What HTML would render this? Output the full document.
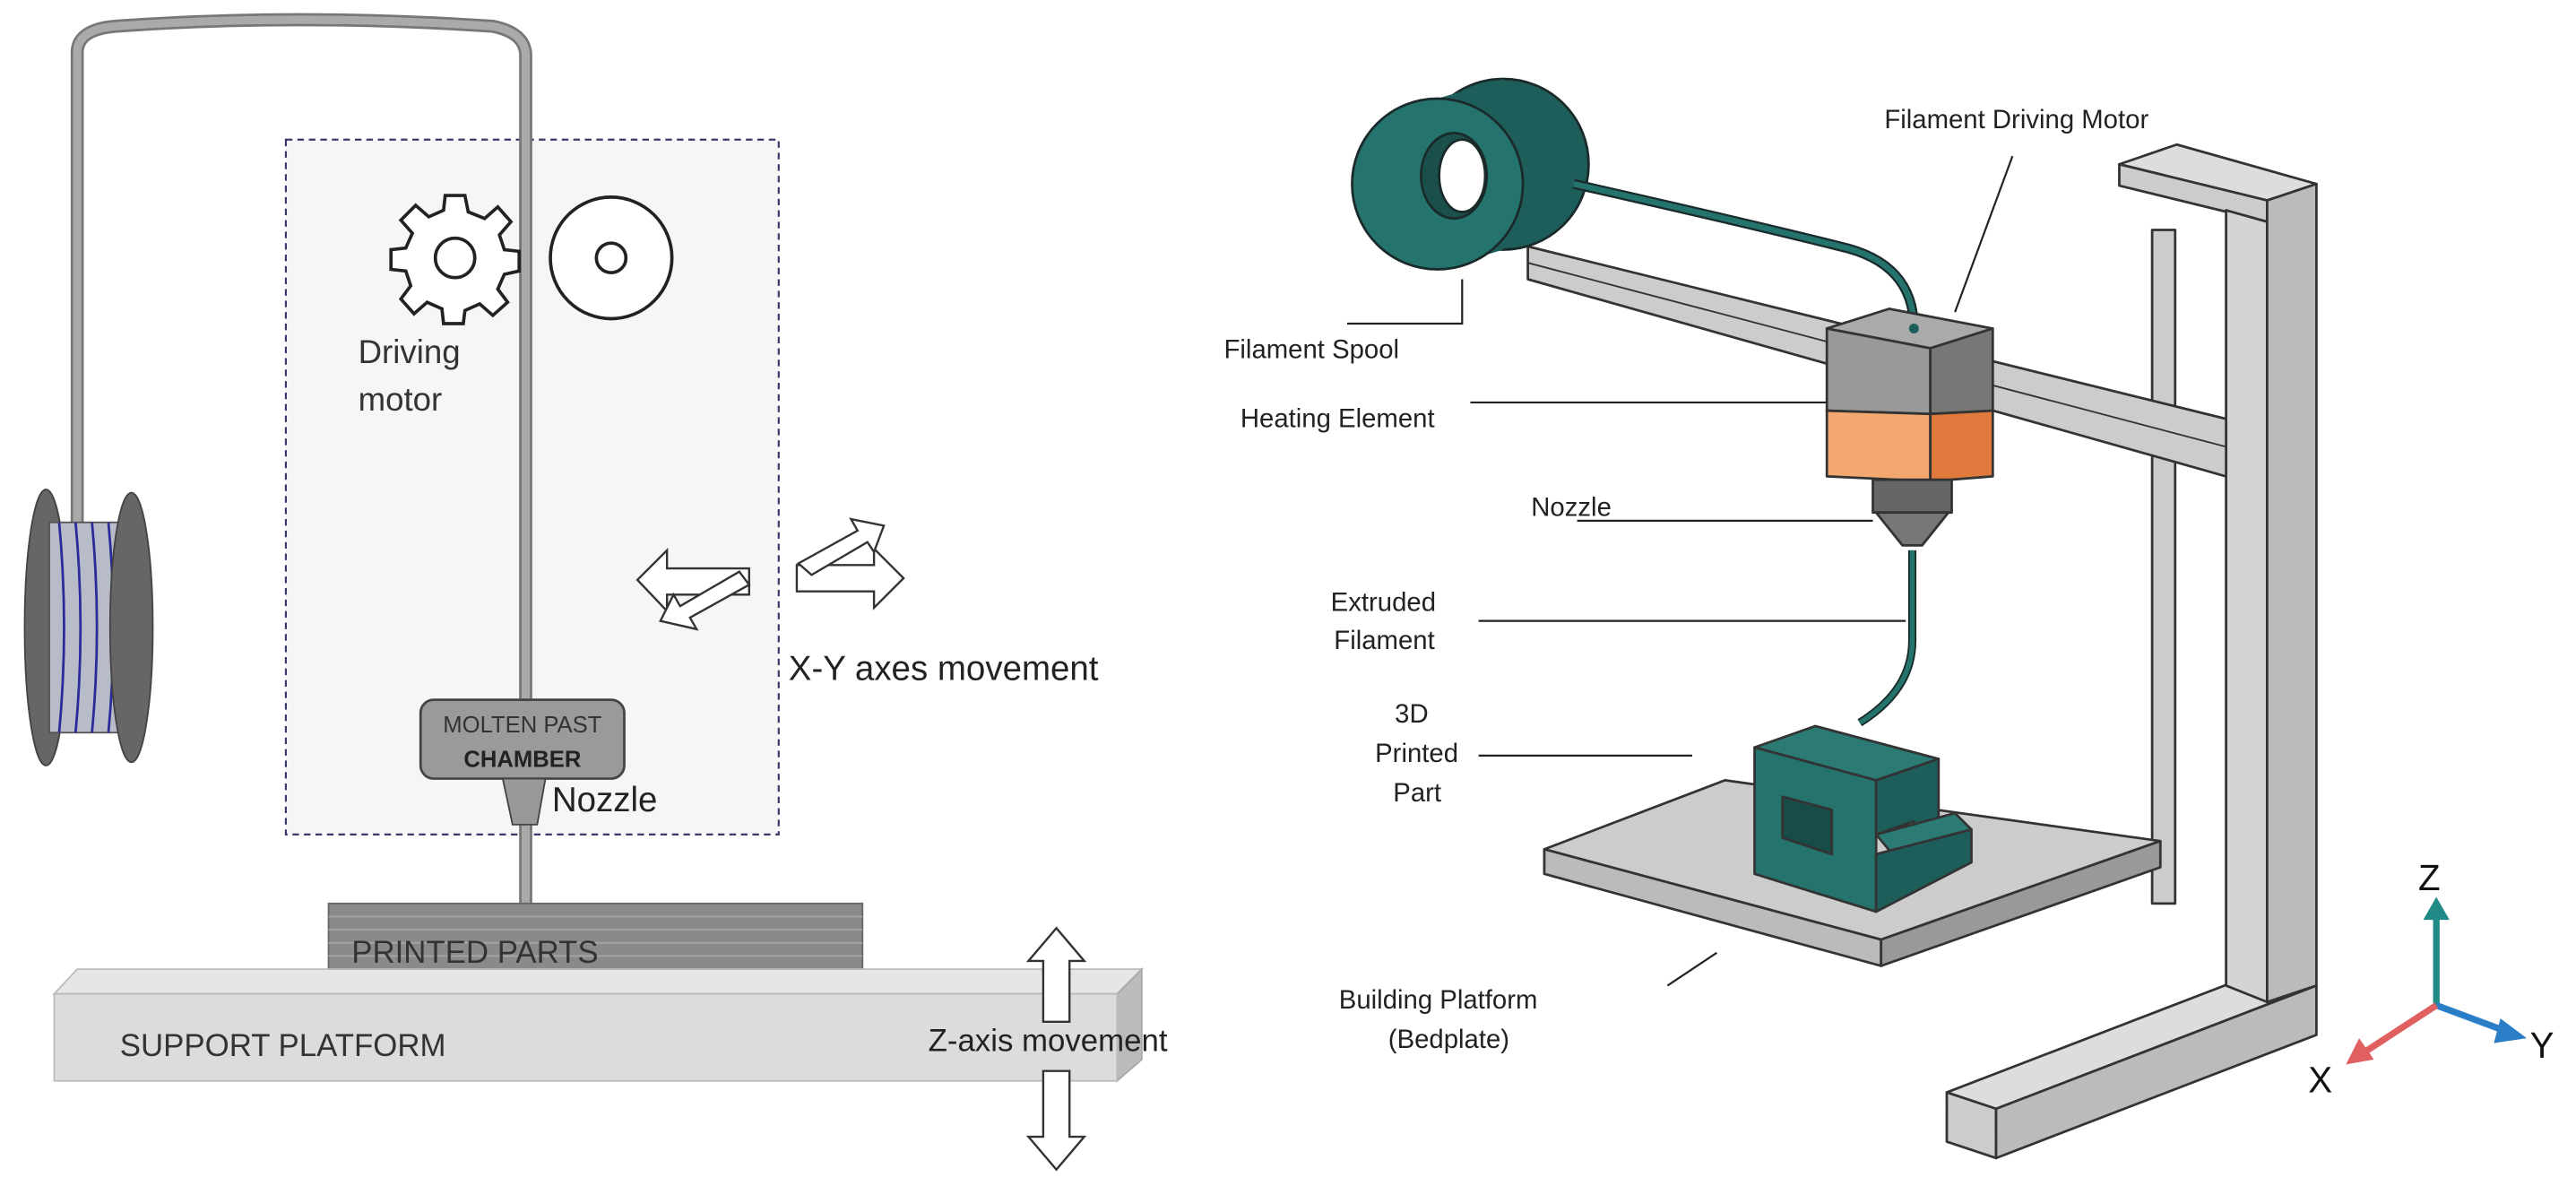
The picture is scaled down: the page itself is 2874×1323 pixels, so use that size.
<!DOCTYPE html>
<html><head><style>html,body{margin:0;padding:0;background:#fff}svg{display:block}</style></head><body>
<svg width="2874" height="1323" viewBox="0 0 1568 722" preserveAspectRatio="none" xmlns="http://www.w3.org/2000/svg" font-family="Liberation Sans, sans-serif">
<rect width="1568" height="722" fill="#fff"/>
<!-- LEFT PANEL -->
<rect x="174" y="85" width="300" height="423" fill="#f6f6f6" stroke="#3a3a6a" stroke-width="1.2" stroke-dasharray="4,3"/>
<path d="M47,330 L47,32 Q47,18 70,16 Q180,8 300,16 Q320,20 320,34 L320,552" fill="none" stroke="#777" stroke-width="8"/>
<path d="M47,330 L47,32 Q47,18 70,16 Q180,8 300,16 Q320,20 320,34 L320,552" fill="none" stroke="#aaa" stroke-width="5"/>
<!-- spool -->
<ellipse cx="28" cy="382" rx="13" ry="84" fill="#666" stroke="#444"/>
<rect x="30" y="318" width="46" height="128" fill="#b8bcc8" stroke="#555"/>
<g stroke="#2a2a9a" stroke-width="1.5" fill="none">
<path d="M36,318 Q42,382 36,446"/><path d="M46,318 Q52,382 46,446"/><path d="M56,318 Q62,382 56,446"/><path d="M66,318 Q72,382 66,446"/><path d="M74,318 Q80,382 74,446"/>
</g>
<ellipse cx="80" cy="382" rx="13" ry="82" fill="#666" stroke="#444"/>
<!-- gear -->
<g transform="translate(277,157)" fill="#fff" stroke="#222" stroke-width="2">
<path d="M-6,-38 L6,-38 L8,-28 L18,-24 L26,-31 L34,-22 L27,-14 L30,-5 L39,-4 L39,8 L30,10 L26,19 L32,27 L23,35 L15,28 L6,32 L5,40 L-7,40 L-8,31 L-17,27 L-25,34 L-33,25 L-27,17 L-30,8 L-39,7 L-39,-5 L-30,-6 L-26,-15 L-33,-23 L-24,-32 L-16,-25 L-7,-29 Z"/>
<circle r="12"/>
</g>
<circle cx="372" cy="157" r="37" fill="#fff" stroke="#222" stroke-width="2"/>
<circle cx="372" cy="157" r="9" fill="#fff" stroke="#222" stroke-width="2"/>
<text x="218" y="221" font-size="20" fill="#333">Driving</text>
<text x="218" y="250" font-size="20" fill="#333">motor</text>
<!-- xy arrows -->
<g fill="#fff" stroke="#333" stroke-width="1.3">
<path d="M388,353 L406,335 L406,346 L456,346 L456,362 L406,362 L406,372 Z"/>
<path d="M456,356 L420,376 L424,383 L402,378 L410,362 L414,369 L450,348 Z"/>
<path d="M550,352 L532,334 L532,344 L485,344 L485,360 L532,360 L532,370 Z"/>
<path d="M486,343 L522,323 L518,316 L538,320 L532,336 L528,330 L494,350 Z"/>
</g>
<text x="480" y="414" font-size="21" fill="#222">X-Y axes movement</text>
<!-- chamber -->
<rect x="256" y="426" width="124" height="48" rx="8" fill="#9a9a9a" stroke="#444" stroke-width="1.5"/>
<text x="318" y="446" font-size="14" fill="#333" text-anchor="middle">MOLTEN PAST</text>
<text x="318" y="467" font-size="14" fill="#222" font-weight="bold" text-anchor="middle">CHAMBER</text>
<path d="M306,474 L332,474 L327,502 L312,502 Z" fill="#999" stroke="#444"/>
<text x="336" y="494" font-size="21" fill="#222">Nozzle</text>
<!-- printed parts -->
<rect x="200" y="550" width="325" height="48" fill="#8a8a8a" stroke="#666"/>
<g stroke="#a5a5a5" stroke-width="1"><line x1="200" y1="558" x2="525" y2="558"/><line x1="200" y1="566" x2="525" y2="566"/><line x1="200" y1="574" x2="525" y2="574"/><line x1="200" y1="582" x2="525" y2="582"/><line x1="200" y1="590" x2="525" y2="590"/></g>
<text x="214" y="586" font-size="19" fill="#333">PRINTED PARTS</text>
<!-- support platform -->
<path d="M33,605 L47,590 L695,590 L680,605 Z" fill="#e6e6e6" stroke="#bbb"/>
<path d="M680,605 L695,590 L695,645 L680,658 Z" fill="#bbb" stroke="#aaa"/>
<rect x="33" y="605" width="647" height="53" fill="#dcdcdc" stroke="#bbb"/>
<text x="73" y="643" font-size="19" fill="#333">SUPPORT PLATFORM</text>
<g fill="#fff" stroke="#333" stroke-width="1.3">
<path d="M643,565 L660,585 L651,585 L651,622 L635,622 L635,585 L626,585 Z"/>
<path d="M643,712 L660,692 L651,692 L651,652 L635,652 L635,692 L626,692 Z"/>
</g>
<text x="565" y="640" font-size="19" fill="#222">Z-axis movement</text>

<!-- RIGHT PANEL -->
<!-- stand -->
<g stroke="#333" stroke-width="1.5" stroke-linejoin="round">
<path d="M1185,665 L1380,590 L1410,600 L1215,675 Z" fill="#ddd"/>
<path d="M1185,665 L1215,675 L1215,705 L1185,695 Z" fill="#ccc"/>
<path d="M1215,675 L1410,600 L1410,630 L1215,705 Z" fill="#bbb"/>
<rect x="1310" y="140" width="14" height="410" fill="#ccc"/>
<path d="M1290,100 L1325,88 L1410,112 L1380,122 Z" fill="#ddd"/>
<path d="M1290,100 L1380,122 L1380,135 L1290,113 Z" fill="#ccc"/>
<path d="M1355,128 L1380,135 L1380,610 L1355,600 Z" fill="#d4d4d4"/>
<path d="M1380,122 L1410,112 L1410,600 L1380,610 Z" fill="#bbb"/>
<!-- beam -->
<path d="M930,150 L1355,255 L1355,290 L930,170 Z" fill="#ccc"/>
<line x1="930" y1="160" x2="1355" y2="272" stroke-width="1"/>
</g>
<!-- spool -->
<g stroke="#1a2a2a" stroke-width="1.5">
<circle cx="915" cy="100" r="52" fill="#1d5e5a"/>
<path d="M875,60 L915,48 L915,152 L875,164 Z" fill="#1d5e5a" stroke="none"/>
<circle cx="875" cy="112" r="52" fill="#25736d"/>
<ellipse cx="885" cy="107" rx="20" ry="26" fill="#1a4f4b"/>
<ellipse cx="890" cy="107" rx="14" ry="22" fill="#fff"/>
</g>
<path d="M958,112 Q1060,135 1120,150 Q1165,160 1165,200" fill="none" stroke="#1a2a2a" stroke-width="6"/>
<path d="M958,112 Q1060,135 1120,150 Q1165,160 1165,200" fill="none" stroke="#25736d" stroke-width="3.5"/>
<!-- print head -->
<g stroke="#333" stroke-width="1.5" stroke-linejoin="round">
<path d="M1112,200 L1150,188 L1213,200 L1175,212 Z" fill="#aaa"/>
<path d="M1112,200 L1175,212 L1175,252 L1112,250 Z" fill="#999"/>
<path d="M1175,212 L1213,200 L1213,250 L1175,252 Z" fill="#777"/>
<path d="M1112,250 L1175,252 L1175,293 L1112,290 Z" fill="#f2a86e"/>
<path d="M1175,252 L1213,250 L1213,290 L1175,293 Z" fill="#e07a3c"/>
<path d="M1140,292 L1188,292 L1188,312 L1140,312 Z" fill="#666"/>
<path d="M1142,312 L1186,312 L1170,332 L1158,332 Z" fill="#777"/>
</g>
<circle cx="1165" cy="200" r="3" fill="#1d5e5a"/>
<path d="M1164,335 L1164,390 Q1164,420 1132,440" fill="none" stroke="#1a2a2a" stroke-width="5"/>
<path d="M1164,335 L1164,390 Q1164,420 1132,440" fill="none" stroke="#25736d" stroke-width="3"/>
<!-- bedplate -->
<g stroke="#333" stroke-width="1.5" stroke-linejoin="round">
<path d="M940,517 L1050,475 L1315,512 L1145,572 Z" fill="#ccc"/>
<path d="M940,517 L1145,572 L1145,588 L940,532 Z" fill="#bbb"/>
<path d="M1145,572 L1315,512 L1315,528 L1145,588 Z" fill="#999"/>
<!-- part -->
<path d="M1068,455 L1105,442 L1180,462 L1142,475 Z" fill="#2b7a73"/>
<path d="M1068,455 L1142,475 L1142,555 L1068,532 Z" fill="#25736d"/>
<path d="M1142,475 L1180,462 L1180,505 L1165,510 L1165,500 L1142,508 Z" fill="#1d5e5a"/>
<path d="M1142,508 L1190,495 L1200,505 L1152,520 Z" fill="#2b7a73"/>
<path d="M1142,520 L1200,505 L1200,525 L1142,555 Z" fill="#1d5e5a"/>
<path d="M1085,485 L1115,493 L1115,520 L1085,510 Z" fill="#174c48"/>
</g>
<!-- labels -->
<g font-size="16" fill="#222">
<text x="1147" y="78">Filament Driving Motor</text>
<text x="745" y="218">Filament Spool</text>
<text x="755" y="260">Heating Element</text>
<text x="932" y="314">Nozzle</text>
<text x="810" y="372">Extruded</text>
<text x="812" y="395">Filament</text>
<text x="849" y="440">3D</text>
<text x="837" y="464">Printed</text>
<text x="848" y="488">Part</text>
<text x="815" y="614">Building Platform</text>
<text x="845" y="638">(Bedplate)</text>
</g>
<g stroke="#222" stroke-width="1.2" fill="none">
<line x1="1225" y1="95" x2="1190" y2="190"/>
<path d="M820,197 L890,197 L890,170"/>
<line x1="895" y1="245" x2="1112" y2="245"/>
<line x1="960" y1="317" x2="1140" y2="317"/>
<line x1="900" y1="378" x2="1160" y2="378"/>
<line x1="900" y1="460" x2="1030" y2="460"/>
<line x1="1015" y1="600" x2="1045" y2="580"/>
</g>
<!-- axes -->
<line x1="1483" y1="612" x2="1483" y2="558" stroke="#1f8a86" stroke-width="4"/>
<path d="M1475,560 L1483,546 L1491,560 Z" fill="#1f8a86"/>
<line x1="1483" y1="612" x2="1526" y2="628" stroke="#2a7ec8" stroke-width="4"/>
<path d="M1522,620 L1538,632 L1518,635 Z" fill="#2a7ec8"/>
<line x1="1483" y1="612" x2="1440" y2="640" stroke="#e06060" stroke-width="4"/>
<path d="M1436,632 L1428,648 L1445,645 Z" fill="#e06060"/>
<g font-size="22" fill="#111"><text x="1472" y="542">Z</text><text x="1540" y="644">Y</text><text x="1405" y="665">X</text></g>
</svg>
</body></html>
